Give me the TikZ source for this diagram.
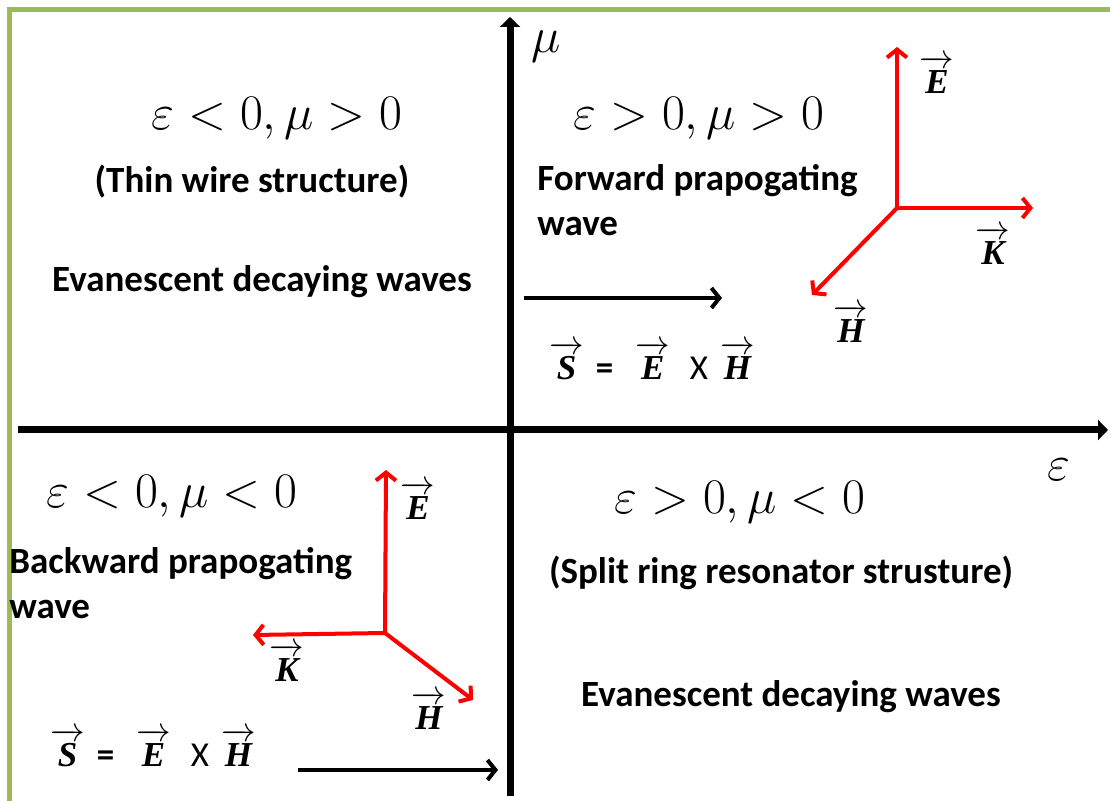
\documentclass[tikz,border=0pt]{standalone}
\usepackage{fontspec}
\setmainfont{Carlito}
\newfontfamily\vecfont{Liberation Serif}
\usetikzlibrary{arrows.meta,positioning,calc}
\definecolor{frame}{RGB}{155,187,89}
\definecolor{wave}{RGB}{255,0,0}
\tikzset{axis/.style={line width=3.5pt,-{Triangle[length=5pt,width=10pt]}},
  field/.style={line width=2pt,wave,-{Straight Barb[length=4pt,width=10pt]}},
  flux/.style={line width=2pt,-{Straight Barb[length=4pt,width=10pt]}},
  note/.style={font=\fontsize{18.5}{22}\selectfont\bfseries,inner sep=0pt},
  region/.style={font=\fontsize{25}{30}\selectfont,inner sep=0pt},
  vlabel/.style={font=\fontsize{17.5}{20}\selectfont,inner sep=0pt,anchor=base}}
\newcommand{\vv}[1]{$\overrightarrow{\hbox{\vecfont\bfseries\itshape\rule{0pt}{0.78em}#1}}$}
\newcommand{\poynting}{\vv{S}\hspace{6pt}{\bfseries =}\hspace{11pt}\vv{E}\hspace{10pt}{\mdseries X}\hspace{6pt}\vv{H}}

\begin{document}
\begin{tikzpicture}[x=0.5pt,y=-0.5pt]
\useasboundingbox (0,0) rectangle (1110,801);
\draw[frame,line width=2.5pt] (1110,10) -- (9.5,10) -- (9.5,801);
\coordinate (mubot) at (510,796);
\coordinate (mutop) at (510,17);
\coordinate (epsleft) at (18,430);
\coordinate (epsright) at (1108,430);
\draw[axis] (mubot) -- (mutop);
\draw[axis] (epsleft) -- (epsright);
\node[region] (mulab) at (546,47) {$\mu$};
\node[region] (epslab) at (1059,470) {$\varepsilon$};

\node[region,anchor=base] (q2) at (277,130) {$\varepsilon<0,\mu>0$};
\node[region,anchor=base] (q1) at (699,130) {$\varepsilon>0,\mu>0$};
\node[region,anchor=base] (q3) at (172,508) {$\varepsilon<0,\mu<0$};
\node[region,anchor=base] (q4) at (740,514) {$\varepsilon>0,\mu<0$};

\node[note,anchor=base] (thin) at (252,193) {(Thin wire structure)};
\node[note,anchor=base] (evanl) at (262,292) {Evanescent decaying waves};
\node[note,anchor=base west] (fwd) at (537,191) {Forward prapogating};
\node[note,anchor=base west] (fwdw) at (537,236) {wave};
\node[note,anchor=base west] (bwd) at (9,574) {Backward prapogating};
\node[note,anchor=base west] (bwdw) at (9,619) {wave};
\node[note,anchor=base] (srr) at (781,584) {(Split ring resonator strusture)};
\node[note,anchor=base] (evanr) at (791,707) {Evanescent decaying waves};

\coordinate (s1a) at (524,298);
\coordinate (s1b) at (722,298);
\coordinate (s2a) at (298,770);
\coordinate (s2b) at (498,770);
\draw[flux] (s1a) -- (s1b);
\draw[flux] (s2a) -- (s2b);
\node[vlabel,anchor=base west] (pf) at (549,380) {\poynting};
\node[vlabel,anchor=base west] (pb) at (50,767) {\poynting};

\coordinate (o1) at (897,208);
\coordinate (e1) at (897,47);
\coordinate (k1) at (1033,208);
\coordinate (h1) at (812,295);
\draw[field] (o1) -- (e1);
\draw[field] (o1) -- (k1);
\draw[field] (o1) -- (h1);
\node[vlabel] (e1lab) at (937,94) {\vv{E}};
\node[vlabel] (k1lab) at (993,265) {\vv{K}};
\node[vlabel] (h1lab) at (851,343) {\vv{H}};

\coordinate (o2) at (385,633);
\coordinate (e2) at (386,470);
\coordinate (k2) at (253,635);
\coordinate (h2) at (473,700);
\draw[field] (o2) -- (e2);
\draw[field] (o2) -- (k2);
\draw[field] (o2) -- (h2);
\node[vlabel] (e2lab) at (418,520) {\vv{E}};
\node[vlabel] (k2lab) at (287,682) {\vv{K}};
\node[vlabel] (h2lab) at (429,730) {\vv{H}};
\end{tikzpicture}
\end{document}
